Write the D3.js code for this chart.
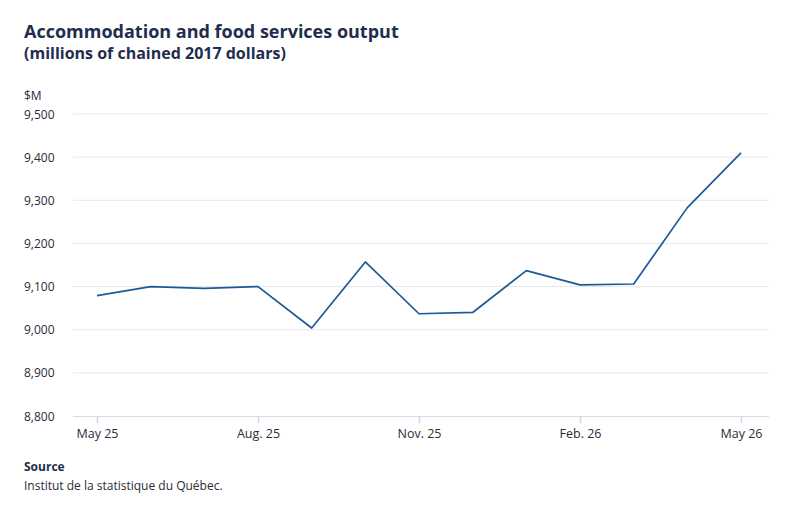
<!DOCTYPE html>
<html>
<head>
<meta charset="utf-8">
<script src="https://cdn.jsdelivr.net/npm/d3@7"></script>
<style>
  body { margin: 0; background: #fff; }
  #chart { width: 800px; height: 513px; }
  text { font-family: "Open Sans", sans-serif; }
</style>
</head>
<body>
<div id="chart"></div>
<script>
const months = ["2025-05","2025-06","2025-07","2025-08","2025-09","2025-10","2025-11",
                "2025-12","2026-01","2026-02","2026-03","2026-04","2026-05"];
const output = [9079, 9100, 9096, 9100, 9004, 9157, 9037, 9040, 9137, 9104, 9106, 9283, 9410];
const yTicks = [8800, 8900, 9000, 9100, 9200, 9300, 9400, 9500];
const xTickMonths = ["2025-05","2025-08","2025-11","2026-02","2026-05"];
const xTickLabels = ["May 25","Aug. 25","Nov. 25","Feb. 26","May 26"];

const width = 800, height = 513;
const data = months.map((m, i) => ({ month: m, value: output[i] }));

const svg = d3.select("#chart").append("svg")
    .attr("width", width)
    .attr("height", height);

// titles
svg.append("text").attr("x", 24).attr("y", 38)
    .attr("fill", "#1f2d4f").attr("font-size", 18).attr("font-weight", 700)
    .text("Accommodation and food services output");
svg.append("text").attr("x", 24).attr("y", 59)
    .attr("fill", "#1f2d4f").attr("font-size", 16).attr("font-weight", 700)
    .text("(millions of chained 2017 dollars)");

// months are evenly spaced in the original
const x = d3.scalePoint()
    .domain(months)
    .range([97, 741]);
const y = d3.scaleLinear()
    .domain([8800, 9500])
    .range([416, 114]);

// grid
svg.append("g").selectAll("line")
    .data(yTicks.slice(1))
    .join("line")
    .attr("x1", 73).attr("x2", 769)
    .attr("y1", d => y(d)).attr("y2", d => y(d))
    .attr("stroke", "#e6e8ec").attr("stroke-width", 1);

// y labels
svg.append("g").selectAll("text")
    .data(yTicks)
    .join("text")
    .attr("x", 24).attr("y", d => y(d) + 4.5)
    .attr("fill", "#2b2b3a").attr("font-size", 12)
    .text(d => d3.format(",")(d));
svg.append("text").attr("x", 24).attr("y", 100)
    .attr("fill", "#2b2b3a").attr("font-size", 12).text("$M");

// x axis
const xAxis = d3.axisBottom(x)
    .tickValues(xTickMonths)
    .tickFormat((d, i) => xTickLabels[i])
    .tickSize(7)
    .tickPadding(6)
    .tickSizeOuter(0);
const gx = svg.append("g")
    .attr("transform", `translate(0,${y(8800)})`)
    .call(xAxis);
gx.select(".domain").attr("d", `M73,0.5H769`).attr("stroke", "#d5dcea");
gx.selectAll(".tick line").attr("stroke", "#c9d5ea").attr("stroke-width", 1.5);
gx.selectAll(".tick text")
    .attr("fill", "#2b2b3a")
    .attr("font-size", 12.5)
    .attr("font-family", "'Open Sans', sans-serif");

// line
const line = d3.line()
    .x(d => x(d.month))
    .y(d => y(d.value));
svg.append("path")
    .datum(data)
    .attr("fill", "none")
    .attr("stroke", "#1b5a98")
    .attr("stroke-width", 1.7)
    .attr("stroke-linejoin", "round")
    .attr("d", line);

// source
svg.append("text").attr("x", 24).attr("y", 471)
    .attr("fill", "#1f2d4f").attr("font-size", 12).attr("font-weight", 700)
    .text("Source");
svg.append("text").attr("x", 24).attr("y", 490)
    .attr("fill", "#2b2b3a").attr("font-size", 12)
    .text("Institut de la statistique du Québec.");
</script>
</body>
</html>
